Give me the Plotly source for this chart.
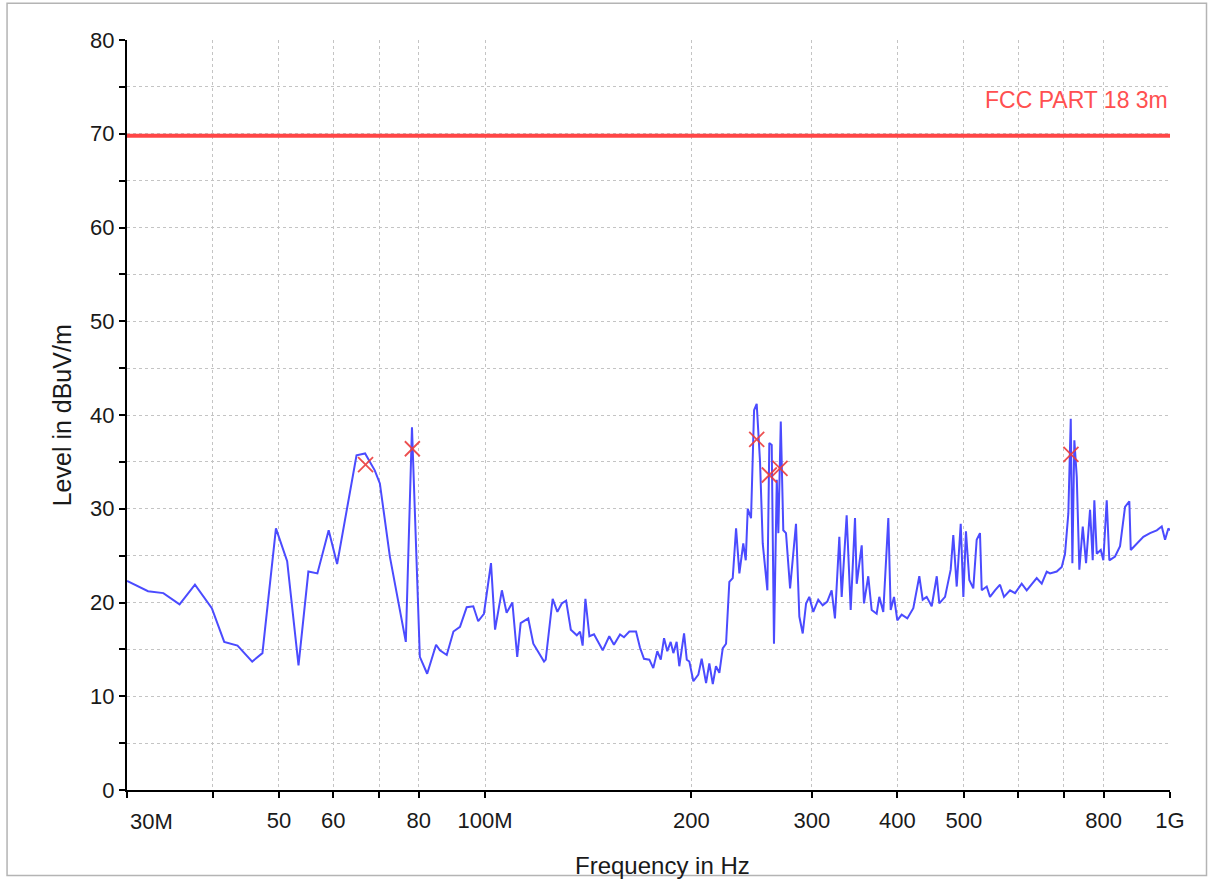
import plotly.graph_objects as go
import math

# ---- data (frequency in MHz, level in dBuV/m) ----
freq_mhz = [
    30.0, 32.2, 33.9, 35.8, 37.7, 39.9, 41.6, 43.5, 45.7, 47.3,
    49.5, 51.4, 53.4, 55.2, 56.9, 59.1, 60.8, 64.9, 66.8, 69.0,
    70.2, 72.6, 76.6, 78.2, 80.3, 82.3, 84.8, 85.9, 87.9, 89.9,
    91.9, 94.0, 96.1, 97.7, 99.6, 102.0, 103.4, 105.8, 107.5, 109.6,
    111.4, 112.7, 115.6, 117.6, 121.9, 122.6, 125.5, 127.5, 129.4, 131.3,
    133.4, 136.1, 137.6, 138.8, 140.1, 142.0, 144.2, 148.5, 151.8, 154.2,
    157.4, 159.5, 162.4, 166.1, 168.3, 170.6, 173.7, 176.0, 178.4, 180.5,
    182.5, 184.5, 186.6, 188.3, 190.4, 192.1, 195.2, 197.0, 198.7, 201.4,
    204.8, 207.1, 210.2, 212.5, 215.0, 217.3, 219.8, 222.3, 224.8, 227.3,
    229.9, 232.5, 235.1, 238.2, 240.2, 241.8, 244.5, 247.0, 249.2, 252.0,
    254.3, 258.3, 260.0, 262.1, 264.1, 266.6, 268.0, 270.2, 272.5, 275.0,
    278.8, 284.4, 287.6, 290.9, 294.2, 297.4, 301.4, 306.5, 311.1, 315.9,
    320.6, 324.2, 329.0, 331.6, 337.2, 341.8, 346.8, 348.8, 354.7, 357.4,
    362.6, 366.8, 373.0, 376.3, 381.4, 384.9, 387.9, 391.0, 395.4, 399.8,
    405.7, 413.5, 421.9, 430.5, 435.4, 441.3, 448.8, 456.5, 460.4, 469.4,
    478.4, 482.6, 488.2, 494.8, 499.2, 503.6, 509.3, 516.2, 522.1, 527.9,
    531.0, 540.0, 546.0, 555.2, 564.7, 572.3, 584.0, 593.9, 607.4, 617.7,
    628.2, 638.8, 649.7, 660.7, 668.1, 683.3, 694.9, 702.6, 710.5, 716.3,
    720.2, 725.0, 730.9, 737.3, 745.8, 754.1, 764.3, 771.2, 775.4, 781.7,
    792.3, 799.2, 808.4, 815.5, 831.3, 845.4, 859.7, 872.2, 876.4, 894.2,
    914.3, 935.1, 956.4, 972.6, 983.5, 994.4, 1000.0,
]
level_dbuv = [
    22.3, 21.2, 21.0, 19.8, 21.9, 19.4, 15.8, 15.4, 13.7, 14.6,
    27.9, 24.4, 13.3, 23.3, 23.1, 27.7, 24.1, 35.7, 35.9, 34.1,
    32.7, 24.9, 15.8, 38.7, 14.2, 12.4, 15.5, 14.9, 14.4, 16.9,
    17.4, 19.5, 19.6, 18.0, 18.8, 24.2, 17.1, 21.3, 18.9, 20.0,
    14.2, 17.8, 18.3, 15.6, 13.7, 13.9, 20.4, 19.0, 19.9, 20.2,
    17.1, 16.5, 16.9, 15.4, 20.4, 16.4, 16.6, 14.9, 16.4, 15.5,
    16.6, 16.3, 16.9, 16.9, 15.2, 14.0, 13.9, 13.0, 14.8, 13.9,
    16.2, 14.8, 15.8, 14.6, 15.8, 13.2, 16.7, 13.9, 13.7, 11.6,
    12.3, 14.0, 11.4, 13.5, 11.3, 13.2, 12.5, 15.1, 15.6, 22.2,
    22.6, 27.9, 23.1, 26.3, 24.5, 30.0, 29.0, 40.5, 41.2, 35.0,
    26.3, 21.3, 37.0, 36.8, 15.6, 33.1, 27.4, 39.3, 27.7, 27.4,
    21.5, 28.4, 18.5, 16.7, 19.9, 20.6, 19.0, 20.3, 19.7, 20.1,
    21.3, 18.3, 27.0, 20.6, 29.3, 19.2, 29.0, 22.0, 26.1, 19.9,
    22.8, 19.2, 18.8, 20.6, 19.0, 24.2, 29.0, 19.2, 20.6, 18.1,
    18.7, 18.3, 19.4, 22.8, 20.3, 20.6, 19.6, 22.8, 19.9, 20.6,
    23.5, 27.2, 21.7, 28.4, 20.6, 27.6, 22.4, 21.5, 26.7, 27.4,
    21.3, 21.7, 20.6, 21.3, 21.9, 20.6, 21.3, 21.0, 22.0, 21.3,
    22.0, 22.6, 22.0, 23.3, 23.1, 23.3, 23.8, 25.2, 29.5, 39.6,
    24.2, 37.3, 33.4, 23.5, 28.1, 24.2, 29.9, 24.5, 30.9, 25.2,
    25.6, 24.5, 30.9, 24.5, 24.9, 26.0, 30.2, 30.8, 25.6, 26.3,
    27.0, 27.4, 27.7, 28.1, 26.7, 27.9, 27.7,
]

# Final (quasi-peak) markers
marker_freq_mhz = [66.9, 78.3, 249.2, 260.0, 269.5, 716.8]
marker_level = [34.7, 36.4, 37.4, 33.6, 34.3, 35.8]

# Limit line
limit_name = "FCC PART 18 3m"
limit_freq_mhz = [30.0, 1000.0]
limit_level = [69.8, 69.8]

# Axis ticks
x_tickvals = [30, 40, 50, 60, 70, 80, 100, 200, 300, 400, 500, 600, 700, 800, 1000]
x_ticktext = ["", "", "50", "60", "", "80", "100M", "200", "300", "400", "500", "", "", "800", "1G"]
y_tickvals = [0, 10, 20, 30, 40, 50, 60, 70, 80]

FONT = "Liberation Sans, Arial, sans-serif"
GRID = "#c4c4c4"
TXT = "#1a1a1a"

fig = go.Figure()

fig.add_trace(go.Scatter(
    x=limit_freq_mhz, y=limit_level, mode="lines",
    line=dict(color="#ff4646", width=4), hoverinfo="skip", showlegend=False))

fig.add_trace(go.Scatter(
    x=freq_mhz, y=level_dbuv, mode="lines",
    line=dict(color="#4b4bff", width=2), showlegend=False))

fig.add_trace(go.Scatter(
    x=marker_freq_mhz, y=marker_level, mode="markers",
    marker=dict(symbol="x-thin", size=15,
                line=dict(width=1.8, color="rgba(235,60,60,0.9)")),
    showlegend=False))

fig.update_layout(
    width=1211, height=879,
    margin=dict(l=127, r=41, t=40, b=89),
    paper_bgcolor="white", plot_bgcolor="white",
    font=dict(family=FONT, size=22, color=TXT),
    xaxis=dict(
        type="log", range=[math.log10(30), math.log10(1000)],
        tickmode="array", tickvals=x_tickvals, ticktext=x_ticktext,
        showgrid=True, gridcolor=GRID, griddash="dot", gridwidth=1,
        showline=True, linecolor="black", linewidth=2,
        ticks="outside", ticklen=6, tickwidth=1.5, tickcolor="black",
        ticklabelstandoff=4,
        zeroline=False,
    ),
    yaxis=dict(
        range=[0, 80], tickmode="array", tickvals=y_tickvals,
        showgrid=True, gridcolor=GRID, griddash="dot", gridwidth=1,
        showline=True, linecolor="black", linewidth=2,
        ticks="outside", ticklen=6, tickwidth=1.5, tickcolor="black",
        minor=dict(tickvals=[5, 15, 25, 35, 45, 55, 65, 75], ticks="outside",
                   ticklen=6, tickwidth=1.5, tickcolor="black",
                   showgrid=True, gridcolor=GRID, griddash="dot", gridwidth=1),
        ticklabelstandoff=0,
        zeroline=False,
    ),
    annotations=[
        dict(x=math.log10(1000), y=73.6, xref="x", yref="y", text=limit_name,
             showarrow=False, xanchor="right", yanchor="middle",
             font=dict(family=FONT, size=23, color="#ff5050")),
        dict(x=0, y=0, xref="paper", yref="paper", text="30M", showarrow=False,
             xanchor="left", yanchor="top", xshift=1, yshift=-17,
             font=dict(family=FONT, size=22, color=TXT)),
        dict(x=-0.062, y=0.5, xref="paper", yref="paper", text="Level in dBuV/m",
             showarrow=False, textangle=-90, xanchor="center", yanchor="middle",
             font=dict(family=FONT, size=25, color=TXT)),
        dict(x=0.513, y=-0.08, xref="paper", yref="paper", text="Frequency in Hz",
             showarrow=False, xanchor="center", yanchor="top",
             font=dict(family=FONT, size=24, color=TXT)),
    ],
    shapes=[
        dict(type="rect", xref="paper", yref="paper",
             x0=-0.115, x1=1.035, y0=-0.114, y1=1.049,
             line=dict(color="#b4b4b4", width=1.5), fillcolor="rgba(0,0,0,0)",
             layer="below"),
    ],
)

fig.write_html("out.html")
